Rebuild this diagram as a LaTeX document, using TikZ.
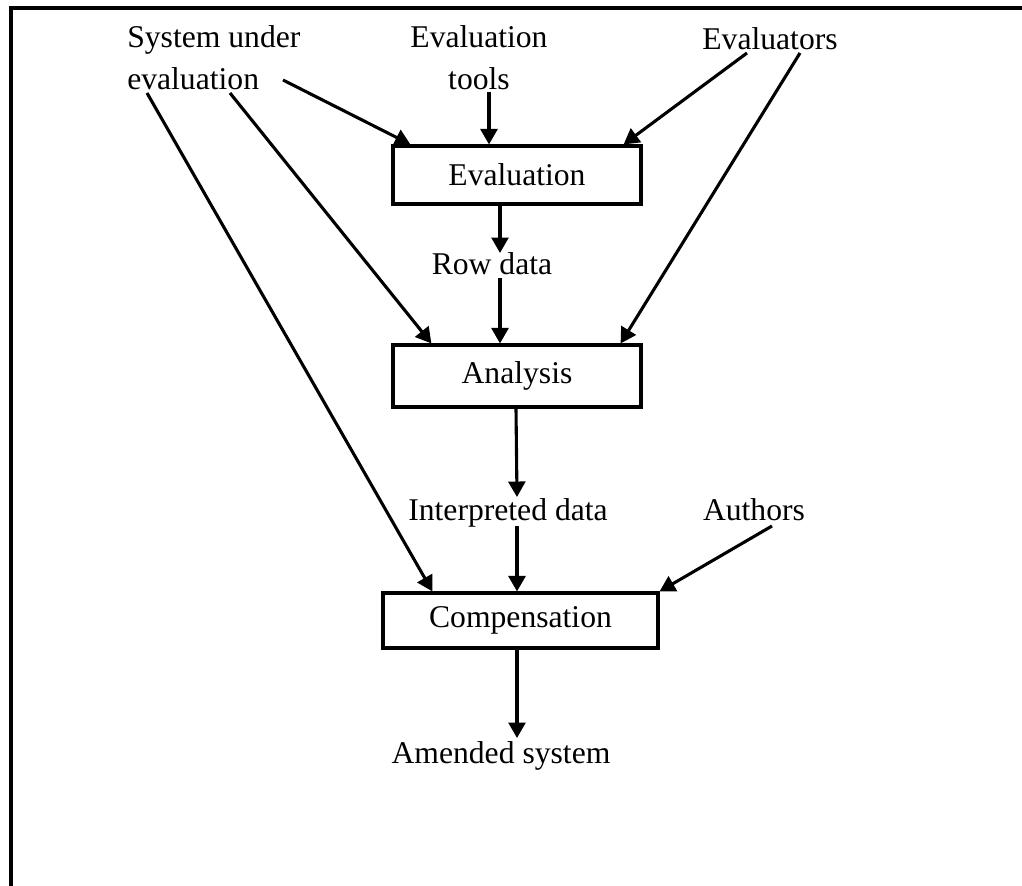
\documentclass[tikz,border=0pt]{standalone}
\usepackage{fontspec}
\setmainfont{Liberation Serif}
\usetikzlibrary{calc,arrows.meta}

\tikzset{
  lbl/.style={inner sep=0pt, anchor=base, font=\fontsize{22.5}{30.5}\selectfont},
  stage/.style={draw, line width=2.2pt, inner sep=0pt, font=\fontsize{22.5}{30.5}\selectfont},
  flow/.style={line width=2.2pt, -{Triangle[length=11pt,width=12pt]}}
}

\begin{document}
\begin{tikzpicture}[x=0.025cm,y=-0.025cm]
\useasboundingbox (0,0) rectangle (1022,886);
\draw[line width=2.2pt] (11,886)--(11,8)--(1022,8);
\node[lbl, anchor=base west, align=left] (sys) at (127,90) {System under\\evaluation};
\node[lbl, align=center] (tools) at (479,90) {Evaluation\\tools};
\node[lbl] (evaluators) at (770,50) {Evaluators};
\node[stage, minimum width=6.2cm, minimum height=1.45cm] (eval) at (517,175) {Evaluation};
\node[lbl] (row) at (492,275) {Row data};
\node[stage, minimum width=6.2cm, minimum height=1.55cm] (analysis) at (517,376) {Analysis};
\node[lbl] (interp) at (508,520) {Interpreted data};
\node[lbl] (authors) at (754,520) {Authors};
\node[stage, minimum width=6.875cm, minimum height=1.375cm] (comp) at (520.5,620.5) {Compensation};
\node[lbl] (amended) at (501,763) {Amended system};
\draw[flow] ($(sys.base west)+(156,-10)$) -- ($(eval.north west)+(19,0)$);
\draw[flow] ($(tools.base)+(10,2)$) coordinate (t) -- (t |- eval.north);
\draw[flow] ($(evaluators.base)+(-23,3)$) -- ($(eval.north east)+(-19,0)$);
\draw[flow] ($(eval.south)+(-17,0)$) -- ($(row.base)+(8,-22)$);
\draw[flow] ($(row.base)+(8,3)$) -- ($(analysis.north)+(-17,0)$);
\draw[flow] ($(sys.base west)+(103,3)$) -- ($(analysis.north west)+(40,0)$);
\draw[flow] ($(evaluators.base)+(30,3)$) -- ($(analysis.north east)+(-22,0)$);
\draw[flow] ($(analysis.south)+(-1,0)$) -- ($(interp.base)+(9,-23)$);
\draw[flow] ($(interp.base)+(9,6)$) -- ($(comp.north)+(-3.5,0)$);
\draw[flow] ($(sys.base west)+(20,3)$) -- ($(comp.north west)+(51,0)$);
\draw[flow] ($(authors.base)+(18,6)$) -- (comp.north east);
\draw[flow] ($(comp.south)+(-3.5,0)$) -- ($(amended.base)+(16,-25)$);
\end{tikzpicture}
\end{document}
